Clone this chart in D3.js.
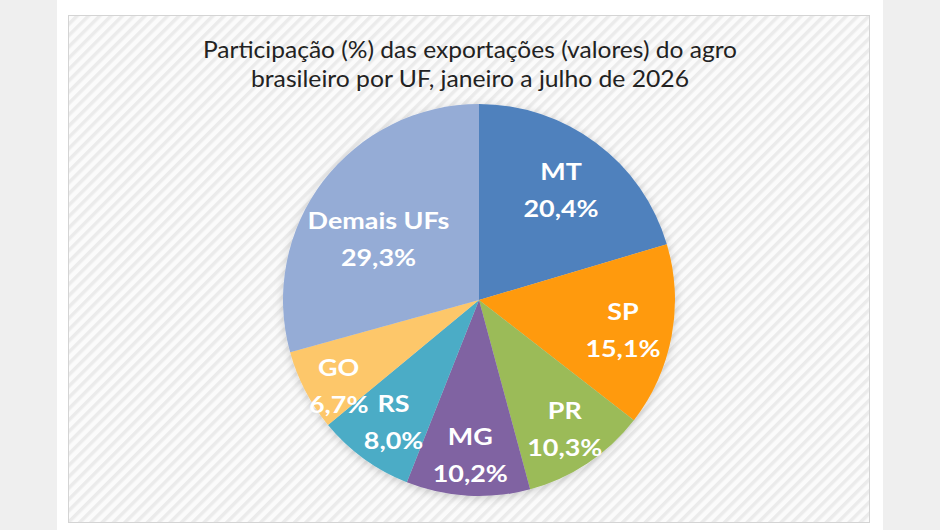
<!DOCTYPE html>
<html>
<head>
<meta charset="utf-8">
<script src="https://cdn.jsdelivr.net/npm/d3@7"></script>
<style>
  html, body { margin: 0; padding: 0; background: #efefef; }
  svg { display: block; }
</style>
</head>
<body>
<svg id="chart" width="940" height="530"></svg>
<script>
// ---- data ----
const categories = ["MT", "SP", "PR", "MG", "RS", "GO", "Demais UFs"];
const shares = [20.4, 15.1, 10.3, 10.2, 8.0, 6.7, 29.3];
const valueLabels = ["20,4%", "15,1%", "10,3%", "10,2%", "8,0%", "6,7%", "29,3%"];
const colors = ["#4f81bd", "#ff9a0a", "#9bbb59", "#8064a2", "#4bacc6", "#fdc76a", "#95acd6"];
const titleLines = ["Participação (%) das exportações (valores) do agro",
                    "brasileiro por UF,  janeiro a julho de 2026"];

// label placement (radius fraction, angle nudge in degrees)
const labelRadius = [0.70, 0.75, 0.79, 0.79, 0.76, 0.84, 0.60];
const labelNudge  = [0, 1, 0, 0, -1, -4, -6];

const svg = d3.select("#chart");
const W = 940, H = 530;

// page background / white card
svg.append("rect").attr("x", 0).attr("y", 0).attr("width", W).attr("height", H).attr("fill", "#efefef");
svg.append("rect").attr("x", 57).attr("y", 0).attr("width", 826).attr("height", H).attr("fill", "#ffffff");

// hatch pattern
const defs = svg.append("defs");
const pat = defs.append("pattern").attr("id", "hatch")
  .attr("patternUnits", "userSpaceOnUse").attr("width", 8).attr("height", 8)
  .attr("patternTransform", "rotate(-45)");
pat.append("rect").attr("width", 8).attr("height", 8).attr("fill", "#fbfbfb");
pat.append("rect").attr("x", 0).attr("y", 0).attr("width", 8).attr("height", 3.5).attr("fill", "#ebebeb");

const shadow = defs.append("filter").attr("id", "shadow")
  .attr("x", "-20%").attr("y", "-20%").attr("width", "140%").attr("height", "140%");
shadow.append("feDropShadow").attr("dx", 0).attr("dy", 2).attr("stdDeviation", 5)
  .attr("flood-color", "#000").attr("flood-opacity", 0.18);

// chart panel
svg.append("rect").attr("x", 68.5).attr("y", 15.5).attr("width", 801).attr("height", 507)
  .attr("fill", "url(#hatch)").attr("stroke", "#d4d4d4").attr("stroke-width", 1);

// title
const title = svg.append("g").attr("font-family", "Lato, 'Open Sans', sans-serif")
  .attr("fill", "#222222").attr("font-size", 24).style("white-space", "pre");
title.append("text").attr("x", 470).attr("y", 58).attr("text-anchor", "middle")
  .attr("textLength", 534).attr("lengthAdjust", "spacingAndGlyphs").text(titleLines[0]);
title.append("text").attr("x", 470).attr("y", 87).attr("text-anchor", "middle")
  .attr("textLength", 438).attr("lengthAdjust", "spacingAndGlyphs").text(titleLines[1]);

// pie
const cx = 479, cy = 300, R = 196;
const data = categories.map((c, i) => ({ cat: c, value: shares[i], label: valueLabels[i], color: colors[i], i }));
const pie = d3.pie().sort(null).value(d => d.value);
const arc = d3.arc().innerRadius(0).outerRadius(R);
const arcs = pie(data);

const g = svg.append("g").attr("transform", `translate(${cx},${cy})`);
g.append("g").attr("filter", "url(#shadow)")
  .selectAll("path").data(arcs).join("path")
  .attr("d", arc)
  .attr("fill", d => d.data.color)
  .attr("stroke", "none");

// labels
const lab = g.selectAll("g.lab").data(arcs).join("g").attr("class", "lab")
  .attr("transform", d => {
    const a = (d.startAngle + d.endAngle) / 2 + labelNudge[d.data.i] * Math.PI / 180;
    const r = R * labelRadius[d.data.i];
    return `translate(${r * Math.sin(a)},${-r * Math.cos(a)}) scale(1.17,1)`;
  })
  .attr("font-family", "Lato, 'Open Sans', sans-serif")
  .attr("font-weight", "bold").attr("font-size", 23).attr("fill", "#ffffff")
  .attr("text-anchor", "middle");
lab.append("text").attr("y", -18).attr("dy", "0.35em").text(d => d.data.cat);
lab.append("text").attr("y", 19).attr("dy", "0.35em").text(d => d.data.label);
</script>
</body>
</html>
